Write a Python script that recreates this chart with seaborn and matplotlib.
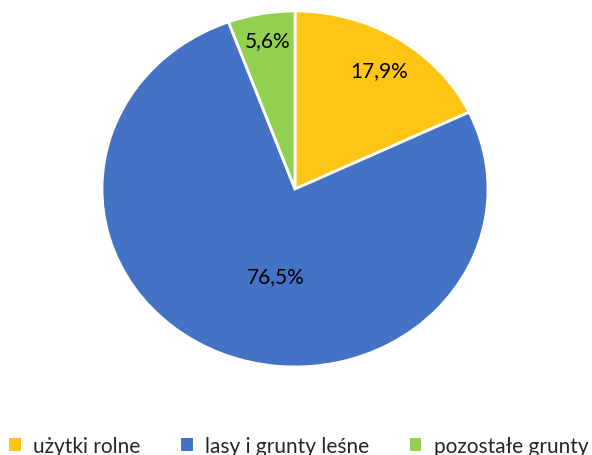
import matplotlib
matplotlib.use("Agg")
import matplotlib.pyplot as plt
from matplotlib.patches import Patch
import numpy as np
import seaborn as sns

categories = ["użytki rolne", "lasy i grunty leśne", "pozostałe grunty"]
values = [17.9, 76.5, 5.6]
labels = ["17,9%", "76,5%", "5,6%"]
colors = ["#FFC514", "#4472C4", "#92D050"]

sns.set_theme(style="white")
plt.rcParams['font.family'] = ['Lato', 'DejaVu Sans']
palette = sns.color_palette(colors)

fig = plt.figure(figsize=(5.92, 4.56), dpi=100)
ax = fig.add_axes([102/592, 1-368/456, 386/592, 356/456])
wedges, _ = ax.pie(values, colors=palette, startangle=90, counterclock=False,
                   wedgeprops=dict(edgecolor="white", linewidth=2), radius=1)
ax.set_aspect('auto')
ax.set_xlim(-1, 1)
ax.set_ylim(-1, 1)

label_r = [0.80, 0.50, 0.85]
label_shift = [-1.0, 10.5, -0.6]
for w, lab, r, s in zip(wedges, labels, label_r, label_shift):
    ang = np.deg2rad((w.theta1 + w.theta2) / 2 + s)
    ax.text(r * np.cos(ang), r * np.sin(ang), lab, ha='center', va='center',
            fontsize=15, color='black')

handles = [Patch(facecolor=c, edgecolor='none') for c in palette]
fig.legend(handles, categories, loc='center', bbox_to_anchor=(0.505, 1-447/456),
           ncol=3, frameon=False, fontsize=15, handlelength=0.55, handleheight=0.55,
           handletextpad=0.6, columnspacing=1.95)
fig.savefig("out.png", dpi=100)
